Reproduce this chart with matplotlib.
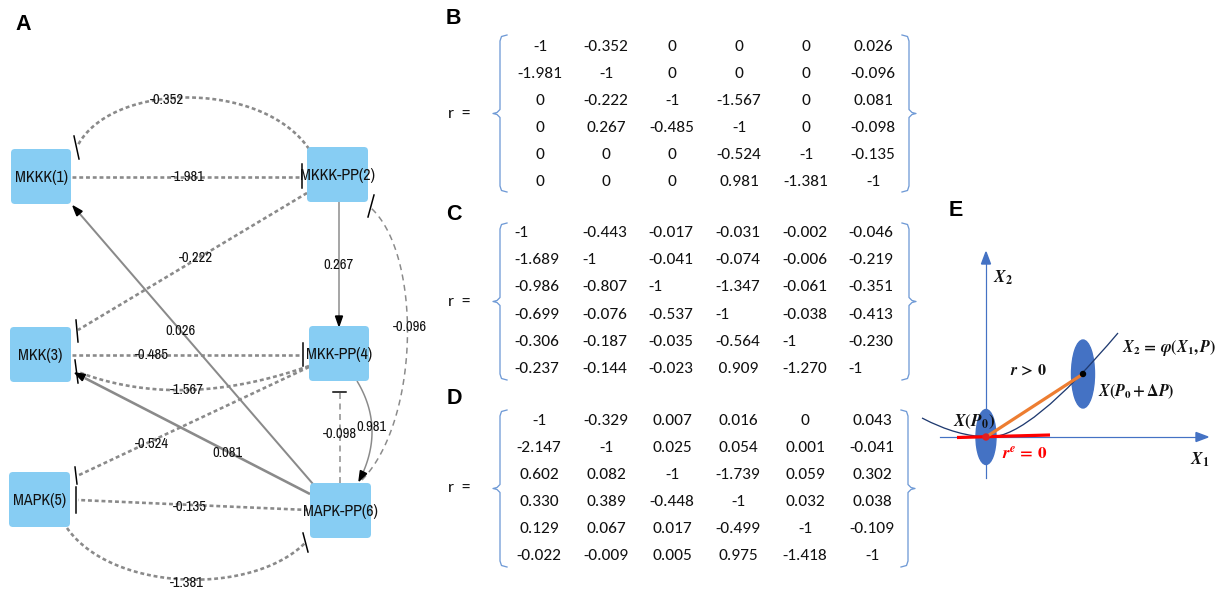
import numpy as np
import matplotlib
matplotlib.use('Agg')
import matplotlib.pyplot as plt
from matplotlib.patches import FancyBboxPatch, Ellipse, Polygon, PathPatch
from matplotlib.path import Path

plt.rcParams['mathtext.fontset'] = 'stix'

# ---------------- data ----------------
node_names = ['MKKK(1)', 'MKKK-PP(2)', 'MKK(3)', 'MKK-PP(4)', 'MAPK(5)', 'MAPK-PP(6)']

r_B = [[-1, -0.352, 0, 0, 0, 0.026],
       [-1.981, -1, 0, 0, 0, -0.096],
       [0, -0.222, -1, -1.567, 0, 0.081],
       [0, 0.267, -0.485, -1, 0, -0.098],
       [0, 0, 0, -0.524, -1, -0.135],
       [0, 0, 0, 0.981, -1.381, -1]]

r_C = [[-1, -0.443, -0.017, -0.031, -0.002, -0.046],
       [-1.689, -1, -0.041, -0.074, -0.006, -0.219],
       [-0.986, -0.807, -1, -1.347, -0.061, -0.351],
       [-0.699, -0.076, -0.537, -1, -0.038, -0.413],
       [-0.306, -0.187, -0.035, -0.564, -1, -0.230],
       [-0.237, -0.144, -0.023, 0.909, -1.270, -1]]

r_D = [[-1, -0.329, 0.007, 0.016, 0, 0.043],
       [-2.147, -1, 0.025, 0.054, 0.001, -0.041],
       [0.602, 0.082, -1, -1.739, 0.059, 0.302],
       [0.330, 0.389, -0.448, -1, 0.032, 0.038],
       [0.129, 0.067, 0.017, -0.499, -1, -0.109],
       [-0.022, -0.009, 0.005, 0.975, -1.418, -1]]

# ---------------- layout (pixel coordinates) ----------------
node_boxes = [(11, 149, 60, 55), (307, 147, 61, 55), (10, 327, 61, 55),
              (309, 326, 60, 55), (9, 472, 61, 55), (310, 483, 61, 55)]

# edge geometry keyed by (row, col) of r_B:
# control points of the edge path, label position, style, inhibition bar ends
edge_geom = {
    (0, 1): ([(309, 149), (262, 80), (112, 82), (78, 145)], (167, 100), 'dot', ((74, 136), (79, 159))),
    (1, 0): ([(72, 177), (302, 177)], (188, 177), 'dot', ((302, 164), (302, 188))),
    (2, 1): ([(307, 193), (78, 330)], (196, 258), 'dot', ((76, 320), (78, 342))),
    (3, 1): ([(339, 202), (339, 326)], (338, 265), 'solid', None),
    (1, 5): ([(362, 480), (420, 420), (422, 255), (371, 208)], (410, 327), 'dash', ((368, 217), (374, 195))),
    (0, 5): ([(313, 484), (73, 206)], (180, 331), 'solid2', None),
    (3, 2): ([(72, 355), (302, 355)], (152, 355), 'dot', ((303, 343), (303, 366))),
    (2, 3): ([(309, 366), (181, 411), (78, 372)], (187, 390), 'dot', ((75, 360), (78, 383))),
    (4, 3): ([(309, 367), (77, 476)], (152, 444), 'dot', ((75, 467), (77, 484))),
    (5, 3): ([(357, 381), (386, 429), (359, 481)], (371, 427), 'solid', None),
    (3, 5): ([(340, 483), (340, 392)], (340, 434), 'dash', ((333, 392), (346, 392))),
    (2, 5): ([(310, 494), (75, 373)], (227, 453), 'solid3', None),
    (4, 5): ([(308, 510), (78, 500)], (190, 507), 'dot', ((76, 487), (76, 513))),
    (5, 4): ([(67, 528), (112, 592), (252, 596), (305, 543)], (187, 583), 'dot', ((303, 533), (308, 552))),
}

PX = 0.72  # points per pixel at dpi 100
W, H = 1218, 589
fig = plt.figure(figsize=(W / 100, H / 100), dpi=100)
ax = fig.add_axes([0, 0, 1, 1])
ax.set_xlim(0, W)
ax.set_ylim(H, 0)
ax.axis('off')

grey = '#8a8a8a'
narrow = ['Archivo Narrow', 'PT Sans Narrow', 'DejaVu Sans']

styles = {
    'dot': dict(lw=2.6, ls=(0, (1.5, 1.1))),
    'dash': dict(lw=1.5, ls=(0, (4.0, 3.0))),
    'solid': dict(lw=1.5, ls='-'),
    'solid2': dict(lw=2.0, ls='-'),
    'solid3': dict(lw=2.6, ls='-'),
}

def curve_pts(ctrl, t):
    ctrl = np.asarray(ctrl, float)
    if len(ctrl) == 2:
        return (1 - t)[:, None] * ctrl[0] + t[:, None] * ctrl[1]
    if len(ctrl) == 3:
        return ((1 - t) ** 2)[:, None] * ctrl[0] + (2 * (1 - t) * t)[:, None] * ctrl[1] + (t ** 2)[:, None] * ctrl[2]
    return (((1 - t) ** 3)[:, None] * ctrl[0] + (3 * (1 - t) ** 2 * t)[:, None] * ctrl[1]
            + (3 * (1 - t) * t ** 2)[:, None] * ctrl[2] + (t ** 3)[:, None] * ctrl[3])

for (i, j), (ctrl, lp, st, bar) in edge_geom.items():
    v = r_B[i][j]
    sty = styles[st]
    t = np.linspace(0, 1, 120)
    pts = curve_pts(ctrl, t)
    e = pts[-1]
    d = pts[-1] - pts[-4]
    d = d / np.hypot(*d)
    n = np.array([-d[1], d[0]])
    if v > 0:
        hl, hw = 10, 7
        seg = np.hypot(*(np.diff(pts, axis=0).T))
        cum = np.concatenate([[0], np.cumsum(seg)])
        keep = cum <= cum[-1] - hl + 1
        line_pts = pts[keep]
    else:
        line_pts = pts
    ax.add_patch(PathPatch(Path(line_pts), fill=False, edgecolor=grey, lw=sty['lw'] * PX,
                           linestyle=sty['ls'], capstyle='butt', zorder=2))
    if v < 0:
        (ax_, ay_), (bx_, by_) = bar
        ax.plot([ax_, bx_], [ay_, by_], color='black', lw=1.5 * PX, zorder=3)
    else:
        base = e - d * hl
        tri = [e, base + n * hw / 2, base - n * hw / 2]
        ax.add_patch(Polygon(tri, closed=True, color='black', zorder=3))
    ax.text(lp[0], lp[1], f"{v:.3f}", ha='center', va='center', fontsize=10.5,
            family=narrow, color='#111111', zorder=4)

for (x, y, w, h), name in zip(node_boxes, node_names):
    ax.add_patch(FancyBboxPatch((x, y), w, h, boxstyle='round,pad=0,rounding_size=4',
                                facecolor='#87CDF3', edgecolor='none', zorder=5))
    ax.text(x + w / 2, y + h / 2 + 1, name, ha='center', va='center', fontsize=11.5,
            family=narrow, color='#111111', zorder=6)

# ---------------- panels B, C, D ----------------
brace_col = '#6F9AD6'
mat_font = ['Carlito', 'Lato', 'DejaVu Sans']

def fmt(v):
    return '%d' % v if float(v).is_integer() else '%.3f' % v

def brace(x, y0, y1, side):
    s = 1 if side == 'left' else -1
    ym = (y0 + y1) / 2
    pts = [(x + 7 * s, y0), (x + 1.5 * s, y0 + 1.5), (x, y0 + 6), (x, ym - 4),
           (x - 3 * s, ym - 1), (x - 7 * s, ym), (x - 3 * s, ym + 1), (x, ym + 4),
           (x, y1 - 6), (x + 1.5 * s, y1 - 1.5), (x + 7 * s, y1)]
    xs, ys = zip(*pts)
    ax.plot(xs, ys, color=brace_col, lw=1.3 * PX, solid_joinstyle='round')

def matrix(M, cols, y0, dy, align, bx0, bx1, by0, by1):
    for r, row in enumerate(M):
        for k, v in enumerate(row):
            txt = fmt(v)
            if align == 'left' and v > 0:
                txt = '\u2009' + txt
            ax.text(cols[k], y0 + r * dy, txt, ha=align, va='center', fontsize=12.5,
                    family=mat_font, color='#111111')
    brace(bx0, by0, by1, 'left')
    brace(bx1, by0, by1, 'right')
    ax.text(448, (by0 + by1) / 2, 'r  =', ha='left', va='center', fontsize=12.5,
            family=mat_font, color='#111111')

matrix(r_B, [540, 606, 672, 739, 806, 873], 47, 27, 'center', 500, 909, 35, 192)
matrix(r_C, [514, 582, 648, 715, 782, 848], 233, 27.2, 'left', 500, 909, 223, 380)
matrix(r_D, [539, 606, 672, 738, 805, 872], 421, 27, 'center', 500, 908, 410, 567)

for lab, (x, y) in zip('ABCDE', [(23, 25), (453, 18), (454, 214), (454, 399), (956, 211)]):
    ax.text(x, y, lab, ha='center', va='center', fontsize=15.5, fontweight='bold',
            family=['Liberation Sans', 'DejaVu Sans'], color='black')

# ---------------- panel E ----------------
ax_col = '#4472C4'
ox, oy = 986, 437
ax.plot([ox, ox], [478, 262], color=ax_col, lw=1.2 * PX)
ax.add_patch(Polygon([(ox, 252), (ox - 4.5, 264), (ox + 4.5, 264)], color=ax_col))
ax.plot([940, 1198], [oy, oy], color=ax_col, lw=1.2 * PX)
ax.add_patch(Polygon([(1208, oy), (1196, oy - 4.5), (1196, oy + 4.5)], color=ax_col))

ax.add_patch(Ellipse((ox, oy), 20, 55, color=ax_col, zorder=2))
ax.add_patch(Ellipse((1083, 374), 23, 68, color=ax_col, zorder=2))

curve = Path([(922, 418), (958, 437), (990, 437), (1030, 437), (1118, 333)],
             [Path.MOVETO, Path.CURVE3, Path.CURVE3, Path.CURVE3, Path.CURVE3])
ax.add_patch(PathPatch(curve, fill=False, edgecolor='#1F3A70', lw=1.3 * PX, zorder=3))

ax.plot([957, 1050], [437.5, 435], color='#FF0000', lw=3.2 * PX, zorder=4,
        solid_capstyle='butt')
ax.plot([ox, 1083], [oy, 374], color='#ED7D31', lw=3.2 * PX, zorder=4,
        solid_capstyle='butt')
ax.add_patch(Ellipse((ox, oy), 6, 6, color='#E02020', zorder=5))
ax.add_patch(Ellipse((1083, 374), 5, 5, color='black', zorder=5))

mt = dict(fontsize=11.5, color='#111111', zorder=6)
ax.text(1003, 278, r'$\mathbfit{X}_{\mathbf{2}}$', ha='center', va='center', fontsize=12.3,
        color='#111111', zorder=6)
ax.text(1028, 370, r'$\mathbfit{r}\,\mathbf{>}\,\mathbf{0}$', ha='center', va='center', **mt)
ax.text(1122, 348, r'$\mathbfit{X}_{\mathbf{2}}\,\mathbf{=}\,\mathbfit{\varphi}\mathbf{(}\mathbfit{X}_{\mathbf{1}}\mathbf{,}\,\mathbfit{P}\mathbf{)}$',
        ha='left', va='center', **mt)
ax.text(1098, 392, r'$\mathbfit{X}\mathbf{(}\mathbfit{P}_{\mathbf{0}}\,\mathbf{+}\,\mathbf{\Delta}\mathbfit{P}\mathbf{)}$',
        ha='left', va='center', **mt)
ax.text(953, 422, r'$\mathbfit{X}\mathbf{(}\mathbfit{P}_{\mathbf{0}}\mathbf{)}$',
        ha='left', va='center', fontsize=12.3, color='#111111', zorder=6)
ax.text(1002, 454, r'$\mathbfit{r}^{\mathbfit{e}}\,\mathbf{=}\,\mathbf{0}$', ha='left', va='center',
        fontsize=12.3, color='#FF0000', zorder=6)
ax.text(1200, 460, r'$\mathbfit{X}_{\mathbf{1}}$', ha='center', va='center', fontsize=12.3,
        color='#111111', zorder=6)

fig.savefig('out.png', dpi=100)
